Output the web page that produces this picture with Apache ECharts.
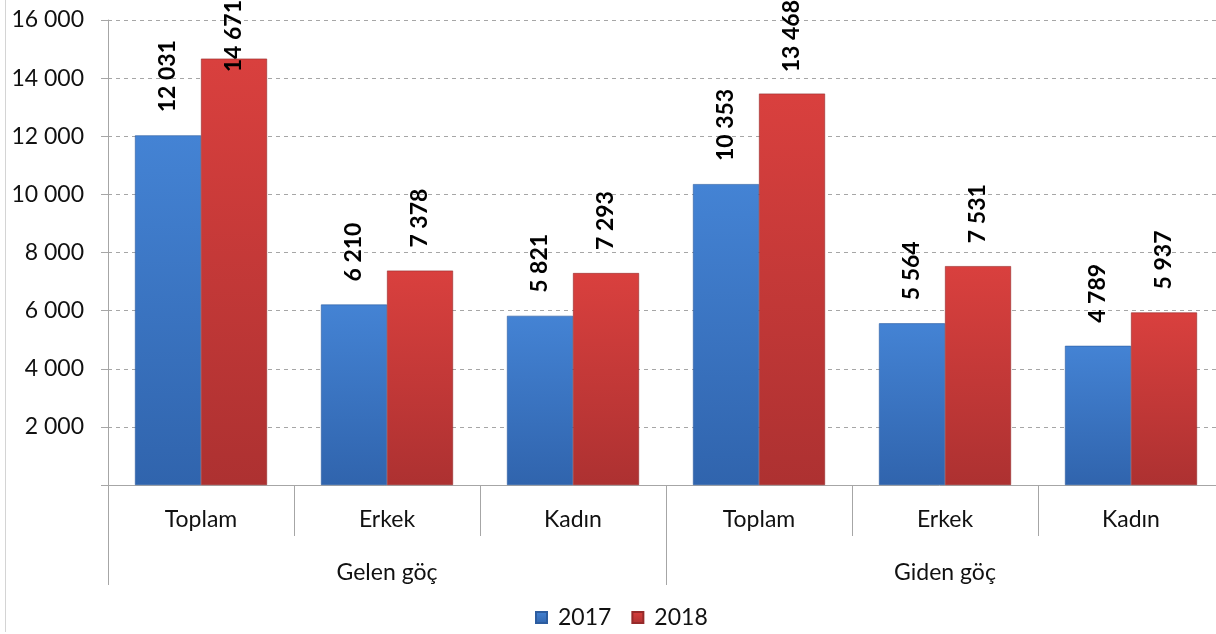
<!DOCTYPE html>
<html>
<head>
<meta charset="utf-8">
<script src="https://cdn.jsdelivr.net/npm/echarts@6/dist/echarts.min.js"></script>
<style>
html,body{margin:0;padding:0;background:#fff;}
#chart{width:1216px;height:634px;}
</style>
</head>
<body>
<div id="chart"></div>
<script>
const categories = ['Toplam', 'Erkek', 'Kadın', 'Toplam', 'Erkek', 'Kadın'];
const groups = ['Gelen göç', 'Giden göç'];
const seriesNames = ['2017', '2018'];
const values2017 = [12031, 6210, 5821, 10353, 5564, 4789];
const values2018 = [14671, 7378, 7293, 13468, 7531, 5937];
const yTicks = [0, 2000, 4000, 6000, 8000, 10000, 12000, 14000, 16000];

const FONT = 'Lato, "Open Sans", sans-serif';
const fmt = v => String(v).replace(/\B(?=(\d{3})+(?!\d))/g, ' ');

function grad(top, bottom) {
  return new echarts.graphic.LinearGradient(0, 0, 0, 1, [
    { offset: 0, color: top },
    { offset: 1, color: bottom }
  ]);
}

const chart = echarts.init(document.getElementById('chart'), null, { renderer: 'canvas' });

const labelCfg = {
  show: true,
  position: 'top',
  distance: 23,
  rotate: 90,
  align: 'left',
  verticalAlign: 'middle',
  color: '#000',
  fontFamily: FONT,
  fontWeight: 'bold',
  fontSize: 23,
  formatter: p => fmt(p.value)
};

function clampTop(params) {
  const r = params.labelRect;
  if (r && r.y < 0) {
    return { y: r.height };
  }
  return {};
}

const option = {
  animation: false,
  backgroundColor: '#fff',
  graphic: [{
    type: 'line',
    shape: { x1: 5.5, y1: 0, x2: 5.5, y2: 632 },
    style: { stroke: '#d4d4d4', lineWidth: 1 }
  }],
  legend: {
    data: seriesNames,
    top: 601,
    left: 530,
    itemWidth: 11,
    itemHeight: 11,
    itemGap: 20,
    icon: 'rect',
    textStyle: { fontFamily: FONT, fontSize: 23, color: '#111', padding: [0, 0, 0, 6] }
  },
  grid: { left: 108, top: 20, width: 1116, height: 465, containLabel: false, outerBoundsMode: 'none' },
  xAxis: [{
    type: 'category',
    data: categories,
    position: 'bottom',
    axisLine: { show: true, lineStyle: { color: '#a6a6a6', width: 1 } },
    axisTick: { show: true, interval: 0, length: 51, lineStyle: { color: '#a6a6a6' } },
    axisLabel: { interval: 0, margin: 23, fontFamily: FONT, fontSize: 23, color: '#111' },
    splitLine: { show: false }
  }, {
    type: 'category',
    data: groups,
    position: 'bottom',
    axisLine: { show: false },
    axisTick: { show: true, interval: 0, length: 100, lineStyle: { color: '#a6a6a6' } },
    axisLabel: { interval: 0, margin: 76, fontFamily: FONT, fontSize: 23, color: '#111' },
    splitLine: { show: false }
  }],
  yAxis: {
    type: 'value',
    min: yTicks[0],
    max: yTicks[yTicks.length - 1],
    interval: yTicks[1] - yTicks[0],
    axisLine: { show: true, lineStyle: { color: '#a6a6a6' } },
    axisTick: { show: true, length: 7, lineStyle: { color: '#a6a6a6' } },
    axisLabel: {
      margin: 24,
      fontFamily: FONT, fontSize: 23, color: '#111',
      formatter: v => v === 0 ? '' : fmt(v)
    },
    splitLine: { show: true, lineStyle: { color: '#a6a6a6', type: [4, 4], width: 1 } }
  },
  series: [{
    name: seriesNames[0],
    type: 'bar',
    xAxisIndex: 0,
    data: values2017,
    barGap: '0%',
    barCategoryGap: '29%',
    itemStyle: { color: grad('#4483d4', '#3064ad'), borderColor: '#2c5c9f', borderWidth: 0.6 },
    label: labelCfg,
    labelLayout: clampTop
  }, {
    name: seriesNames[1],
    type: 'bar',
    xAxisIndex: 0,
    data: values2018,
    barGap: '0%',
    barCategoryGap: '29%',
    itemStyle: { color: grad('#d9403e', '#ad3131'), borderColor: '#962a2a', borderWidth: 0.6 },
    label: labelCfg,
    labelLayout: clampTop
  }]
};

chart.setOption(option);
</script>
</body>
</html>
